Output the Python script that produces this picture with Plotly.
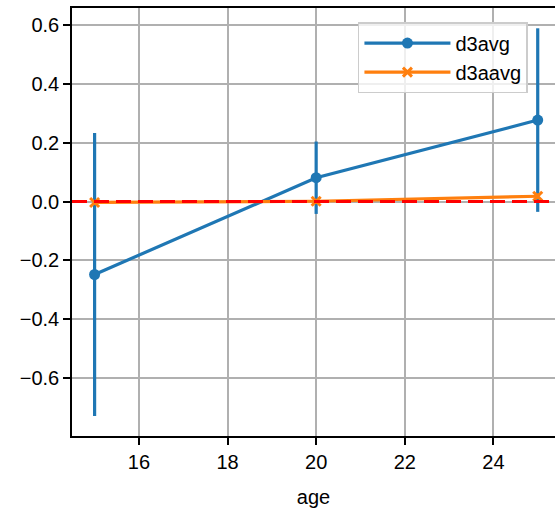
import plotly.graph_objects as go

age = [15, 20, 25]
d3avg = [-0.248, 0.081, 0.277]
d3avg_err = [0.481, 0.123, 0.312]
d3aavg = [-0.003, 0.001, 0.018]
d3aavg_err = [0.008, 0.008, 0.01]

yticks = [-0.6, -0.4, -0.2, 0.0, 0.2, 0.4, 0.6]
yticktext = ["\u22120.6", "\u22120.4", "\u22120.2", "0.0", "0.2", "0.4", "0.6"]
xticks = [16, 18, 20, 22, 24]

blue = "#1f77b4"
orange = "#ff7f0e"
font_family = "Liberation Sans, Arial, sans-serif"

fig = go.Figure()
fig.add_trace(go.Scatter(
    x=age, y=d3avg, name="d3avg", mode="lines+markers",
    line=dict(color=blue, width=3.2),
    marker=dict(color=blue, size=11, symbol="circle"),
    error_y=dict(type="data", array=d3avg_err, color=blue, thickness=3.2, width=0),
))
fig.add_trace(go.Scatter(
    x=age, y=d3aavg, name="d3aavg", mode="lines+markers",
    line=dict(color=orange, width=3.2),
    marker=dict(color=orange, size=9, symbol="x-thin", line=dict(color=orange, width=3)),
    error_y=dict(type="data", array=d3aavg_err, color=orange, thickness=3, width=0),
))
fig.add_hline(y=0, line=dict(color="#ff0000", width=3, dash="15px,7px"), layer="above")

axis_common = dict(
    showgrid=True, gridcolor="#b0b0b0", gridwidth=1.5,
    showline=True, linecolor="black", linewidth=1.6,
    ticks="outside", ticklen=7, tickwidth=1.6, tickcolor="black",
    tickfont=dict(family=font_family, size=20, color="black"),
    zeroline=False, automargin=False,
)
fig.update_xaxes(
    range=[14.49, 25.39], tickvals=xticks, mirror=True,
    title=dict(text="age", font=dict(family=font_family, size=20, color="black"), standoff=18),
    **axis_common,
)
fig.update_yaxes(
    range=[-0.797, 0.658], tickvals=yticks, ticktext=yticktext, mirror=False,
    **axis_common,
)
fig.update_layout(
    width=555, height=508,
    margin=dict(l=72, r=0, t=8, b=72, autoexpand=False),
    plot_bgcolor="white", paper_bgcolor="white",
    font=dict(family=font_family, size=20, color="black"),
    legend=dict(
        x=0.592, y=0.967, xanchor="left", yanchor="top",
        bgcolor="rgba(255,255,255,0.8)", bordercolor="#cccccc", borderwidth=1.5,
        font=dict(family=font_family, size=20, color="black"),
        itemwidth=86,
    ),
    showlegend=True,
)
fig.write_html(
    "out.html",
    config={"displayModeBar": False},
    post_script="document.body.style.margin='0';document.body.style.overflow='hidden';",
)
